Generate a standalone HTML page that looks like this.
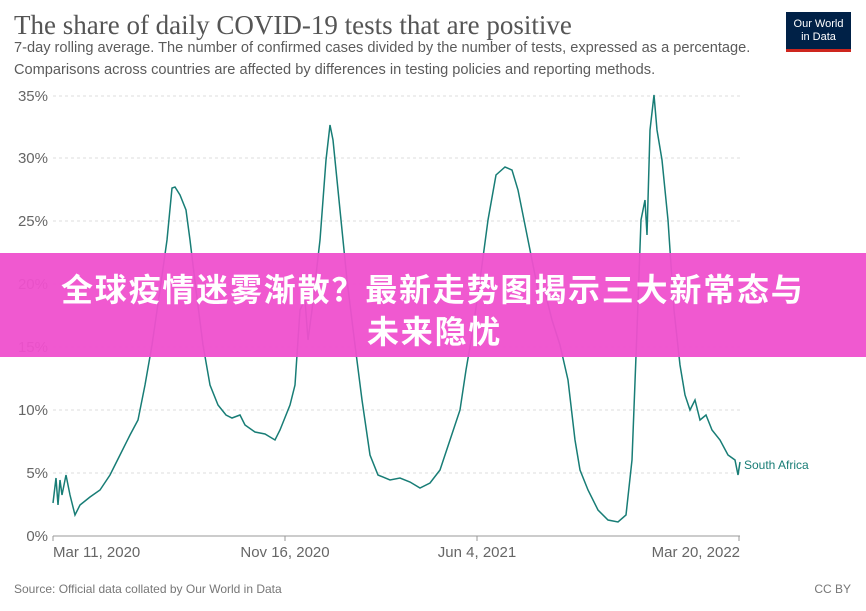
<!DOCTYPE html><html><head><meta charset="utf-8"><style>
body{margin:0;width:866px;height:611px;background:#fff;position:relative;overflow:hidden;font-family:"Liberation Sans",sans-serif}
.t{position:absolute;white-space:nowrap}
</style></head><body>
<div class="t" style="left:14px;top:10px;font-family:'Liberation Serif',serif;font-size:27px;color:#555">The share of daily COVID-19 tests that are positive</div>
<div class="t" style="left:14px;top:37px;font-size:14.6px;color:#5b5b5b;line-height:22px">7-day rolling average. The number of confirmed cases divided by the number of tests, expressed as a percentage.<br>Comparisons across countries are affected by differences in testing policies and reporting methods.</div>
<div style="position:absolute;left:786px;top:12px;width:65px;height:40px;background:#002147;border-bottom:3px solid #ce261e;box-sizing:border-box;color:#fff;font-size:11px;text-align:center;line-height:13px;padding-top:6px">Our World<br>in Data</div>
<svg width="866" height="611" style="position:absolute;left:0;top:0">
<g stroke="#ddd" stroke-dasharray="3,3">
<line x1="53" x2="740" y1="96" y2="96"/><line x1="53" x2="740" y1="158" y2="158"/><line x1="53" x2="740" y1="221" y2="221"/><line x1="53" x2="740" y1="284" y2="284"/><line x1="53" x2="740" y1="347" y2="347"/><line x1="53" x2="740" y1="410" y2="410"/><line x1="53" x2="740" y1="473" y2="473"/></g>
<line x1="53" x2="740" y1="536" y2="536" stroke="#999"/>
<g stroke="#999"><line x1="53" x2="53" y1="536" y2="541"/><line x1="285" x2="285" y1="536" y2="541"/><line x1="477" x2="477" y1="536" y2="541"/><line x1="739" x2="739" y1="536" y2="541"/></g>
<g font-size="15" fill="#666" text-anchor="end">
<text x="48" y="101">35%</text><text x="48" y="163">30%</text><text x="48" y="226">25%</text><text x="48" y="289">20%</text><text x="48" y="352">15%</text><text x="48" y="415">10%</text><text x="48" y="478">5%</text><text x="48" y="541">0%</text></g>
<g font-size="15" fill="#666"><text x="53" y="557">Mar 11, 2020</text><text x="285" y="557" text-anchor="middle">Nov 16, 2020</text><text x="477" y="557" text-anchor="middle">Jun 4, 2021</text><text x="740" y="557" text-anchor="end">Mar 20, 2022</text></g>
<polyline fill="none" stroke="#187d76" stroke-width="1.5" points="53,503 56,478 58,505 60,480 62,495 66,475 70,495 75,515 80,505 90,497 100,490 110,475 120,455 130,435 138,420 145,385 152,345 160,290 167,240 172,188 175,187 180,195 186,210 190,240 196,290 203,345 210,385 218,405 226,415 232,418 240,415 245,425 255,432 265,434 275,440 280,430 290,405 295,385 300,310 305,300 308,340 312,310 320,240 326,160 330,125 333,140 340,210 347,280 355,345 362,400 370,455 378,475 390,480 400,478 410,482 420,488 430,483 440,470 450,440 460,410 466,370 472,335 480,280 488,220 496,175 505,167 512,170 518,190 525,225 532,260 538,290 545,292 552,320 560,345 568,380 575,440 580,470 588,490 598,510 608,520 618,522 626,515 632,460 637,330 641,220 645,200 647,235 650,130 654,95 657,130 662,160 668,220 674,310 680,365 685,395 690,410 695,400 700,420 706,415 712,430 720,440 728,455 735,460 738,475 740,462"/>
<text x="744" y="469" font-size="12" fill="#187d76">South Africa</text>
<text x="14" y="593" font-size="12" fill="#777">Source: Official data collated by Our World in Data</text>
<text x="851" y="593" font-size="12" fill="#777" text-anchor="end">CC BY</text>
</svg>
<div style="position:absolute;left:0;top:253px;width:866px;height:104px;background:rgba(239,80,205,0.95)"></div>
<div class="t" style="left:61px;top:269px;font-size:32px;font-weight:bold;color:#fff;font-family:'Liberation Sans','Noto Sans CJK SC',sans-serif;line-height:42px;letter-spacing:1.8px">全球疫情迷雾渐散？最新走势图揭示三大新常态与</div>
<div class="t" style="left:367px;top:311px;font-size:32px;font-weight:bold;color:#fff;font-family:'Liberation Sans','Noto Sans CJK SC',sans-serif;line-height:42px;letter-spacing:1.8px">未来隐忧</div>
</body></html>
